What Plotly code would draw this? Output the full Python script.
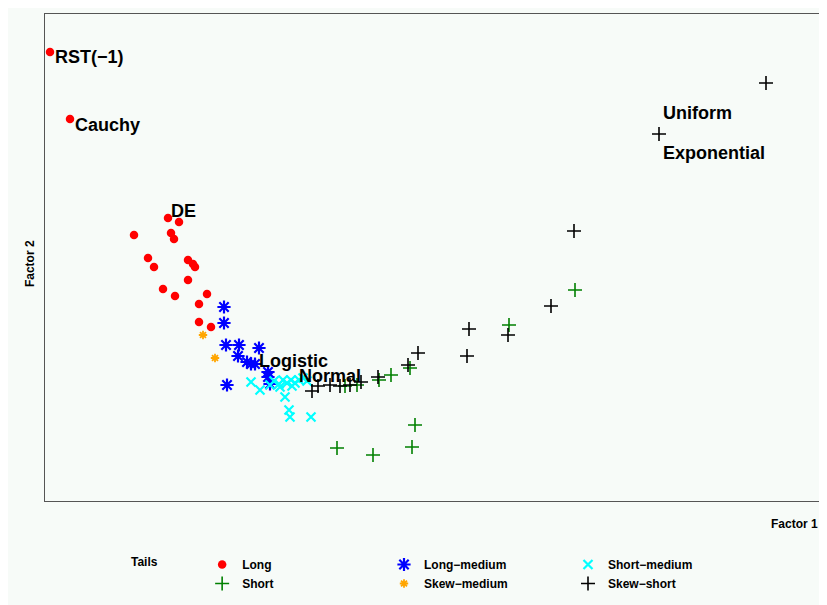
import plotly.graph_objects as go

# ---- data (factor scores) ----
long_x = [-2.50, -2.30, -1.32, -1.21, -1.66, -1.29, -1.26, -1.52, -1.46, -1.12, -1.07, -1.05, -1.12, -1.37, -1.25, -0.93, -1.01, -1.01, -0.89]
long_y = [3.38, 2.71, 1.72, 1.68, 1.55, 1.57, 1.51, 1.32, 1.23, 1.30, 1.26, 1.23, 1.10, 1.01, 0.94, 0.96, 0.86, 0.68, 0.63]

longmed_x = [-0.76, -0.76, -0.74, -0.61, -0.41, -0.62, -0.53, -0.49, -0.45, -0.32, -0.32, -0.73, -0.30]
longmed_y = [0.83, 0.67, 0.45, 0.45, 0.42, 0.34, 0.28, 0.26, 0.26, 0.18, 0.13, 0.05, 0.06]

skewmed_x = [-0.97, -0.85]
skewmed_y = [0.55, 0.32]

shortmed_x = [-0.49, -0.40, -0.30, -0.15, -0.11, -0.10, 0.11, -0.26, -0.21, -0.17, -0.13, -0.09, -0.05, -0.01, 0.03, 0.07, -0.20, -0.08]
shortmed_y = [0.08, 0.00, 0.05, -0.07, -0.20, -0.27, -0.27, 0.09, 0.06, 0.10, 0.07, 0.10, 0.07, 0.10, 0.12, 0.09, 0.03, 0.04]

short_x = [2.75, 2.09, 1.10, 0.91, 0.79, 0.57, 0.45, 1.15, 1.12, 0.73, 0.37]
short_y = [1.00, 0.65, 0.22, 0.15, 0.10, 0.05, 0.04, -0.35, -0.57, -0.65, -0.58]

skewshort_x = [4.66, 3.59, 2.74, 2.51, 1.69, 2.08, 1.18, 1.67, 1.08, 0.78, 0.61, 0.50, 0.40, 0.30, 0.18, 0.12]
skewshort_y = [3.07, 2.56, 1.59, 0.84, 0.61, 0.55, 0.37, 0.34, 0.25, 0.13, 0.08, 0.05, 0.04, 0.05, 0.04, -0.01]

label_text = ["RST(−1)", "Cauchy", "DE", "Logistic", "Normal", "Uniform", "Exponential"]
label_x = [-2.47, -2.27, -1.31, -0.43, -0.03, 3.61, 3.61]
label_y = [3.33, 2.65, 1.79, 0.29, 0.14, 2.77, 2.37]

x_range = [-2.55, 5.20]
y_range = [-1.11, 3.76]

FONT = "Liberation Sans, Arial, sans-serif"
BG = "#f7fbf8"
W, H = 827, 605

fig = go.Figure()

def add(name, xs, ys, symbol, color, size, lw, leg):
    if symbol == "circle":
        marker = dict(symbol=symbol, color=color, size=size, line=dict(width=0))
    else:
        marker = dict(symbol=symbol, color=color, size=size, line=dict(color=color, width=lw))
    fig.add_trace(go.Scatter(x=xs, y=ys, mode="markers", name=name, marker=marker,
                             legend=leg, hoverinfo="skip"))

add("Long", long_x, long_y, "circle", "#ff0000", 8.5, 0, "legend")
add("Long−medium", longmed_x, longmed_y, "asterisk-open", "#0000ff", 11, 2.2, "legend2")
add("Skew−medium", skewmed_x, skewmed_y, "asterisk-open", "#ffa500", 7, 1.8, "legend2")
add("Short−medium", shortmed_x, shortmed_y, "x-thin-open", "#00ffff", 9, 2.2, "legend3")
add("Short", short_x, short_y, "cross-thin-open", "#008000", 10, 1.6, "legend")
add("Skew−short", skewshort_x, skewshort_y, "cross-thin-open", "#000000", 10, 1.6, "legend3")

annotations = []
for t, x, y in zip(label_text, label_x, label_y):
    annotations.append(dict(x=x, y=y, xref="x", yref="y", text=t, showarrow=False,
                            xanchor="left", yanchor="middle",
                            font=dict(family=FONT, size=18, color="black", weight="bold")))

annotations.append(dict(x=1.0, y=-0.047, xref="paper", yref="paper", text="Factor 1",
                        showarrow=False, xanchor="right", yanchor="middle",
                        font=dict(family=FONT, size=12, color="black", weight="bold")))
annotations.append(dict(x=-0.019, y=0.487, xref="paper", yref="paper", text="Factor 2",
                        showarrow=False, xanchor="center", yanchor="middle", textangle=-90,
                        font=dict(family=FONT, size=12, color="black", weight="bold")))

axis_common = dict(showgrid=False, zeroline=False, showticklabels=False, ticks="",
                   showline=True, linecolor="#555555", linewidth=1, mirror=True)

legfont = dict(family=FONT, size=12, color="black", weight="bold")
def legbox(px, title=None):
    d = dict(orientation="v", xref="container", yref="container",
             x=px / W, y=1 - 542 / H, xanchor="left", yanchor="top",
             font=legfont, bgcolor="rgba(0,0,0,0)", itemwidth=30, tracegroupgap=0)
    if title:
        d["title"] = dict(text=title, side="left", font=legfont)
    return d

fig.update_layout(
    width=W, height=H,
    margin=dict(l=37, r=15, t=6, b=112, autoexpand=False),
    paper_bgcolor=BG, plot_bgcolor=BG,
    xaxis=dict(range=x_range, **axis_common),
    yaxis=dict(range=y_range, **axis_common),
    annotations=annotations,
    showlegend=True,
    legend=legbox(121, "Tails" + "\u00a0" * 11),
    legend2=legbox(376),
    legend3=legbox(560),
)

fig.write_html("out.html")
